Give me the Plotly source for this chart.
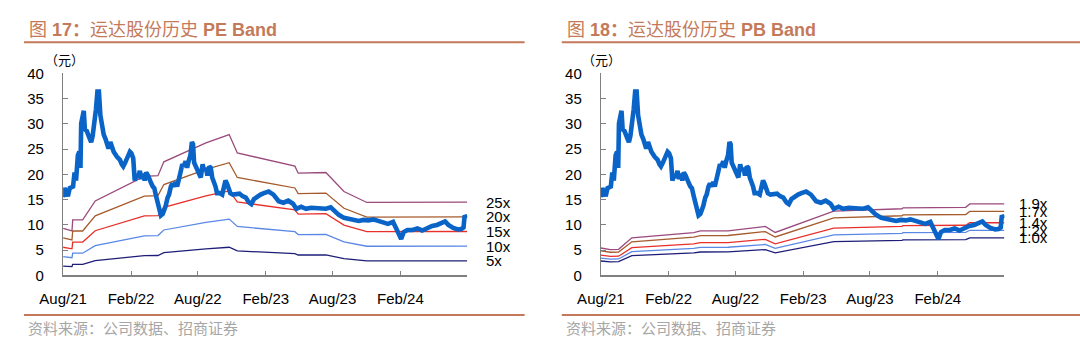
import plotly.graph_objects as go

# ---------------- data ----------------
price_dates = [
    "2021-08-01", "2021-08-05", "2021-08-14", "2021-08-19", "2021-08-28", "2021-09-01", "2021-09-05",
    "2021-09-10", "2021-09-14", "2021-09-17", "2021-09-19", "2021-09-23", "2021-09-26", "2021-09-29",
    "2021-10-04", "2021-10-11", "2021-10-16", "2021-10-20", "2021-10-24", "2021-10-29", "2021-11-02",
    "2021-11-06", "2021-11-10", "2021-11-15", "2021-11-19", "2021-11-24", "2021-11-28", "2021-12-02",
    "2021-12-07", "2021-12-11", "2021-12-16", "2021-12-25", "2022-01-02", "2022-01-07", "2022-01-11",
    "2022-01-16", "2022-01-25", "2022-01-29", "2022-02-02", "2022-02-07", "2022-02-11", "2022-02-16",
    "2022-02-20", "2022-02-25", "2022-03-01", "2022-03-05", "2022-03-10", "2022-03-14", "2022-03-19",
    "2022-03-23", "2022-03-28", "2022-04-01", "2022-04-05", "2022-04-10", "2022-04-14", "2022-04-19",
    "2022-04-23", "2022-04-28", "2022-05-02", "2022-05-06", "2022-05-11", "2022-05-15", "2022-05-20",
    "2022-05-24", "2022-05-29", "2022-06-02", "2022-06-06", "2022-06-11", "2022-06-15", "2022-06-20",
    "2022-06-24", "2022-06-29", "2022-07-03", "2022-07-07", "2022-07-12", "2022-07-16", "2022-07-19",
    "2022-07-22", "2022-07-27", "2022-07-31", "2022-08-05", "2022-08-09", "2022-08-14", "2022-08-18",
    "2022-08-23", "2022-08-27", "2022-09-01", "2022-09-05", "2022-09-09", "2022-09-14", "2022-09-18",
    "2022-09-22", "2022-09-29", "2022-10-06", "2022-10-10", "2022-10-15", "2022-10-19", "2022-10-24",
    "2022-10-28", "2022-11-04", "2022-11-13", "2022-11-22", "2022-11-30", "2022-12-09", "2022-12-18",
    "2022-12-24", "2022-12-31", "2023-01-09", "2023-01-18", "2023-01-27", "2023-02-09", "2023-02-22",
    "2023-03-08", "2023-03-21", "2023-04-03", "2023-04-16", "2023-04-25", "2023-05-08", "2023-05-21",
    "2023-06-04", "2023-06-17", "2023-07-01", "2023-07-14", "2023-07-27", "2023-08-05", "2023-08-18",
    "2023-09-01", "2023-09-14", "2023-09-27", "2023-10-11", "2023-10-24", "2023-11-06", "2023-11-19",
    "2023-12-03", "2023-12-16", "2023-12-29", "2024-01-12", "2024-01-20", "2024-01-27", "2024-02-03",
    "2024-02-10", "2024-02-20", "2024-03-05", "2024-03-18", "2024-03-31", "2024-04-14", "2024-04-27",
    "2024-05-10", "2024-05-23", "2024-06-01", "2024-06-10", "2024-06-23", "2024-07-06", "2024-07-15",
    "2024-07-21", "2024-07-24", "2024-07-30",
]
price_values = [
    15.5, 17.3, 15.7, 17.3, 17.6, 20.4, 18.8,
    23.8, 24.5, 21.3, 30.1, 32.3, 32.6, 28.9,
    28.6, 27.3, 26.4, 27.6, 29.5, 32.9, 36.4,
    36.4, 31.7, 28.9, 27.9, 27.0, 26.0, 25.1,
    26.4, 25.4, 24.5, 23.5, 22.9, 22.0, 21.6,
    22.3, 23.8, 24.5, 24.2, 23.2, 18.8, 19.8,
    19.4, 20.7, 19.1, 20.1, 18.8, 20.4, 19.8,
    18.8, 18.2, 17.6, 17.3, 15.7, 14.4, 13.5,
    11.9, 12.2, 12.9, 13.8, 15.4, 16.0, 17.6,
    18.2, 17.6, 18.5, 17.6, 18.8, 20.4, 22.0,
    21.6, 22.6, 21.3, 22.6, 23.8, 26.4, 26.0,
    22.3, 21.6, 20.7, 20.1, 19.4, 22.0, 20.7,
    21.3, 19.8, 21.6, 21.3, 19.4, 18.5, 17.6,
    16.3, 16.3, 16.0, 17.3, 18.8, 18.2, 17.3,
    16.3, 16.0, 16.2, 16.2, 15.7, 15.4, 14.4,
    14.1, 15.1, 15.7, 16.0, 16.3, 16.6, 16.0,
    14.7, 14.4, 14.8, 14.2, 13.2, 13.6, 13.2,
    13.4, 13.3, 13.3, 13.2, 13.5, 12.9, 12.0,
    11.4, 11.2, 11.0, 10.8, 11.0, 10.9, 11.1,
    10.7, 10.5, 10.2, 10.6, 9.4, 8.4, 7.2,
    8.6, 9.0, 9.0, 9.3, 8.9, 9.5, 9.8,
    10.0, 10.4, 10.7, 10.0, 9.4, 9.1, 9.2,
    9.5, 11.9, 11.3,
]

eps_dates = ["2021-08-01", "2021-08-25", "2021-08-27", "2021-09-23", "2021-10-27", "2022-03-09",
             "2022-04-15", "2022-05-01", "2022-08-23", "2022-10-25", "2022-11-16", "2023-04-21",
             "2023-04-30", "2023-07-14", "2023-09-01", "2023-11-02", "2024-07-31"]
eps_values = [0.372, 0.352, 0.44, 0.44, 0.59, 0.785,
              0.79, 0.90, 1.05, 1.116, 0.97, 0.866,
              0.81, 0.815, 0.665, 0.578, 0.58]

bvps_dates = ["2021-08-01", "2021-08-27", "2021-09-18", "2021-10-24", "2022-04-10", "2022-04-28",
              "2022-07-12", "2022-10-21", "2022-11-17", "2023-04-25", "2023-10-27", "2023-10-30",
              "2024-04-17", "2024-04-28", "2024-07-31"]
bvps_values = [2.86, 2.70, 2.72, 3.92, 4.46, 4.64,
               4.65, 5.11, 4.48, 6.70, 6.95, 7.05,
               7.10, 7.45, 7.45]

pe_multiples = [25, 20, 15, 10, 5]
pe_labels = ["25x", "20x", "15x", "10x", "5x"]
pb_multiples = [1.9, 1.7, 1.4, 1.2, 1.0]
pb_labels = ["1.9x", "1.7x", "1.4x", "1.2x", "1.0x"]
band_colors = ["#9A4A7C", "#A65B2C", "#E8302A", "#5A88E6", "#1E1E78"]

title_nums = ["17", "18"]
title_mids = ["运达股份历史", "运达股份历史"]
title_tails = ["PE Band", "PB Band"]
source_text = "资料来源：公司数据、招商证券"

# ---------------- figure ----------------
W, H = 1080, 351
accent = "#C47A5A"
font_latin = "Liberation Sans, Arial, Noto Sans CJK SC"
fig = go.Figure()

for i, (mults, base_d, base_v) in enumerate([(pe_multiples, eps_dates, eps_values),
                                              (pb_multiples, bvps_dates, bvps_values)]):
    xa = "x" if i == 0 else "x2"
    ya = "y" if i == 0 else "y2"
    for m, c in zip(mults, band_colors):
        fig.add_trace(go.Scatter(x=base_d, y=[m * v for v in base_v], mode="lines",
                                 line=dict(color=c, width=1.3), xaxis=xa, yaxis=ya,
                                 showlegend=False, hoverinfo="skip"))
    fig.add_trace(go.Scatter(x=price_dates, y=price_values, mode="lines",
                             line=dict(color="#0A64C8", width=4.6), xaxis=xa, yaxis=ya,
                             showlegend=False))

px_x = lambda p: p / W
px_y = lambda p: 1 - p / H

xdomains = [[px_x(40), px_x(453.3)], [px_x(590), px_x(1002.7)]]
ydomain = [px_y(280), px_y(67.7)]

axis_common_x = dict(type="date", range=["2021-08-01", "2024-07-31"], tick0="2021-08-01", dtick="M6",
                     tickformat="%b/%y", ticks="inside", ticklen=4, tickcolor="#808080",
                     showline=True, linecolor="#808080", linewidth=2, showgrid=False, zeroline=False,
                     tickfont=dict(family=font_latin, size=15, color="#000"),
                     ticklabelstandoff=9)
axis_common_y = dict(range=[0, 40], dtick=5, ticks="inside", ticklen=5, tickcolor="#808080",
                     showline=True, linecolor="#808080", linewidth=1.3, showgrid=False, zeroline=False,
                     tickfont=dict(family=font_latin, size=15, color="#000"), ticklabelstandoff=15)

fig.update_layout(
    autosize=True, margin=dict(l=0, r=0, t=0, b=0, pad=0),
    paper_bgcolor="white", plot_bgcolor="white", showlegend=False,
    xaxis=dict(axis_common_x, domain=xdomains[0], anchor="y"),
    yaxis=dict(axis_common_y, domain=ydomain, anchor="x"),
    xaxis2=dict(axis_common_x, domain=xdomains[1], anchor="y2"),
    yaxis2=dict(axis_common_y, domain=ydomain, anchor="x2"),
)

annotations = []
shapes = []
panel_left = [0, 550]
panel_right = [512, 1080]
for i in range(2):
    title_html = ("图 <b>" + title_nums[i] + "：</b>" + title_mids[i] + " <b>" + title_tails[i] + "</b>")
    annotations.append(dict(text=title_html, xref="paper", yref="paper",
                            x=px_x(panel_left[i] + 3), y=px_y(22), xanchor="left", yanchor="middle",
                            showarrow=False, font=dict(family=font_latin, size=18, color=accent)))
    annotations.append(dict(text=source_text, xref="paper", yref="paper",
                            x=px_x(panel_left[i] + 2), y=px_y(335), xanchor="left", yanchor="middle",
                            showarrow=False, font=dict(family="Noto Sans CJK SC", size=15, color="#A6A6A6")))
    annotations.append(dict(text="（元）", xref="paper", yref="paper",
                            x=px_x(41 if i == 0 else 591), y=px_y(53),
                            xanchor="center", yanchor="middle", showarrow=False,
                            font=dict(family="Noto Sans CJK SC", size=13, color="#000")))
    for yy in (35, 321.7):
        shapes.append(dict(type="line", xref="paper", yref="paper",
                           x0=px_x(panel_left[i]), x1=px_x(panel_right[i]),
                           y0=px_y(yy), y1=px_y(yy),
                           line=dict(color=accent, width=2)))

for m, lab in zip(pe_multiples, pe_labels):
    annotations.append(dict(text=lab, xref="paper", yref="y", x=px_x(470), y=m * eps_values[-1],
                            xanchor="left", yanchor="middle", showarrow=False,
                            font=dict(family=font_latin, size=15, color="#000")))
for m, lab in zip(pb_multiples, pb_labels):
    annotations.append(dict(text=lab, xref="paper", yref="y2", x=px_x(1016), y=m * bvps_values[-1],
                            xanchor="left", yanchor="middle", showarrow=False,
                            font=dict(family=font_latin, size=15, color="#000")))

fig.update_layout(annotations=annotations, shapes=shapes)
# Pin the plot div to the top-left of the window so page margins cannot shift or rescale it.
fig.write_html("out.html",
               default_width="1080px",
               default_height="351px; position:fixed; top:0; left:0")
